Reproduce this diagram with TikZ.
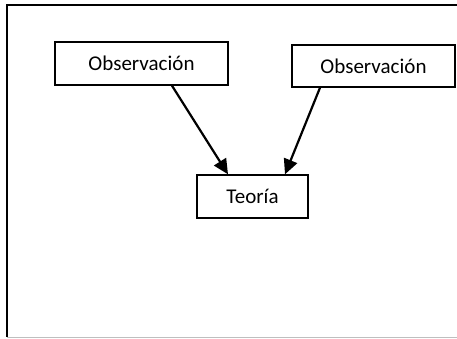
\documentclass[tikz,border=0pt]{standalone}
\usepackage{fontspec}
\setmainfont{Carlito}
\usetikzlibrary{arrows.meta}
\begin{document}
\begin{tikzpicture}[x=1bp,y=-1bp,
  box/.style={draw=black,line width=1.4bp,inner sep=0pt,minimum height=43bp,
    font=\fontsize{21bp}{25bp}\selectfont},
  link/.style={line width=2.2bp,-{Triangle[length=15bp,width=14bp]}}]
\useasboundingbox (0,0) rectangle (457,338);
% outer frame
\draw[line width=1.6bp] (460,5) -- (7,5) -- (7,337);
\draw[line width=1.2bp,black!25] (7,337.2) -- (460,337.2);
% nodes
\node[box,minimum width=173bp] (obs1) at (141.5,63.5) {Observación};
\node[box,minimum width=163bp,minimum height=42bp] (obs2) at (373.5,66) {Observación};
\node[box,minimum width=111bp] (teoria) at (252.5,196.5) {Teoría};
% connectors
\draw[link] ([xshift=30.5bp]obs1.south) -- ([xshift=-24.5bp]teoria.north);
\draw[link] ([xshift=-53.5bp]obs2.south) -- ([xshift=32.5bp]teoria.north);
\end{tikzpicture}
\end{document}
